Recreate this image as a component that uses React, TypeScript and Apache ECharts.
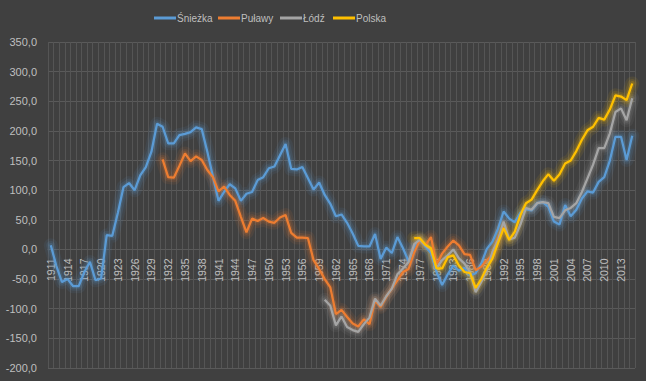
import React, { useEffect, useRef } from "react";
import * as echarts from "echarts";

const FIRST_YEAR = 1911;
const LAST_YEAR = 2015;
const years: string[] = Array.from({ length: LAST_YEAR - FIRST_YEAR + 1 }, (_, i) => String(FIRST_YEAR + i));

const sniezkaStart = 1911;
const sniezka = [
  7, -28, -55, -50, -62, -62, -38, -21, -52, -49,
  24, 23, 62, 105, 112, 100, 125, 139, 165, 212,
  207, 179, 179, 193, 195, 198, 206, 203, 165, 123,
  82, 97, 110, 103, 82, 94, 97, 117, 122, 137,
  140, 159, 178, 136, 135, 139, 120, 101, 113, 92,
  77, 56, 59, 45, 27, 6, 5, 5, 26, -16,
  3, -6, 21, 2, -20, 4, 17, 5, -6, -38,
  -60, -42, -27, -36, -31, -44, -40, -24, 1, 13,
  35, 64, 52, 46, 62, 68, 66, 78, 80, 72,
  47, 42, 75, 56, 67, 86, 98, 96, 114, 122,
  150, 190, 190, 151, 192,
];

const pulawyStart = 1931;
const pulawy = [
  152, 122, 121, 141, 162, 149, 157, 151, 134, 122,
  98, 106, 92, 82, 55, 29, 52, 48, 53, 47,
  45, 54, 58, 28, 20, 20, 19, -18, -33, -50,
  -64, -109, -102, -114, -125, -130, -118, -126, -86, -97,
  -80, -66, -52, -38, -33, -5, 16, 7, 21, -25,
  -7, 5, 15, 7, -8, -9, -35, -29, -18, -10,
  19, 38,
];

const lodzStart = 1960;
const lodz = [
  -85, -95, -128, -113, -131, -136, -139, -126, -115, -83,
  -95, -79, -66, -42, -32, -21, 9, 16, 7, -1,
  -32, -18, -10, 0, -15, -24, -38, -72, -55, -35,
  -4, 16, 47, 17, 20, 42, 70, 67, 78, 80,
  78, 55, 53, 66, 70, 78, 97, 120, 143, 171,
  171, 196, 232, 238, 218, 255,
];

const polskaStart = 1976;
const polska = [
  19, 19, 8, 2, -32, -32, -13, -10, -27, -38,
  -40, -65, -50, -31, -15, 11, 36, 16, 30, 58,
  78, 84, 100, 115, 127, 116, 127, 145, 150, 166,
  185, 201, 207, 222, 219, 236, 260, 258, 252, 280,
];

const seriesNames = ["Śnieżka", "Puławy", "Łódź", "Polska"];

const yMin = -200;
const yMax = 350;
const yStep = 50;

function align(start: number, vals: number[]): (number | null)[] {
  return years.map((y) => {
    const i = Number(y) - start;
    return i >= 0 && i < vals.length ? vals[i] : null;
  });
}

const COLORS = ["#5B9BD5", "#ED7D31", "#A5A5A5", "#FFC000"];
const LEGEND_LEFT = [149, 213, 275, 328];

const W = 646;
const H = 381;
const GRID = { left: 48, right: 11, top: 42, bottom: 13 };

export default function App() {
  const ref = useRef<HTMLDivElement>(null);
  useEffect(() => {
    if (!ref.current) return;
    const chart = echarts.init(ref.current, null, { renderer: "svg" });
    const datas = [
      align(sniezkaStart, sniezka),
      align(pulawyStart, pulawy),
      align(lodzStart, lodz),
      align(polskaStart, polska),
    ];
    const font = "'Liberation Sans', Arial, sans-serif";
    const gridH = H - GRID.top - GRID.bottom;
    const zeroOffset = ((0 - yMin) / (yMax - yMin)) * gridH;

    const glowLayers = [
      { width: 14, opacity: 0.08 },
      { width: 9, opacity: 0.12 },
      { width: 5, opacity: 0.18 },
    ];
    const glowSeries: any[] = [];
    datas.forEach((d, i) => {
      glowLayers.forEach((g, k) => {
        glowSeries.push({
          name: seriesNames[i] + " glow" + k,
          type: "line",
          data: d,
          symbol: "none",
          silent: true,
          z: 1,
          lineStyle: { width: g.width, color: COLORS[i], opacity: g.opacity, join: "round", cap: "round" },
        });
      });
    });

    chart.setOption({
      animation: false,
      backgroundColor: "#404040",
      color: COLORS,
      legend: seriesNames.map((n, i) => ({
        top: 8,
        left: LEGEND_LEFT[i],
        itemWidth: 22,
        itemHeight: 3,
        icon: "rect",
        textStyle: { color: "#bfbfbf", fontSize: 10, fontFamily: font, padding: [0, 0, 0, -4] },
        data: [n],
      })),
      grid: { ...GRID, containLabel: false },
      xAxis: {
        type: "category",
        data: years,
        boundaryGap: true,
        offset: -zeroOffset,
        axisLine: { show: true, onZero: false, lineStyle: { color: "#5a5a5a", width: 1 } },
        axisTick: { show: false },
        axisLabel: {
          interval: 2,
          rotate: 90,
          color: "#bfbfbf",
          fontSize: 10.5,
          fontFamily: font,
          margin: 9,
        },
        splitLine: { show: true, interval: 0, lineStyle: { color: "#555555", width: 1 } },
      },
      yAxis: {
        type: "value",
        min: yMin,
        max: yMax,
        interval: yStep,
        axisLine: { show: false },
        axisTick: { show: false },
        axisLabel: {
          color: "#bfbfbf",
          fontSize: 11,
          fontFamily: font,
          margin: 11,
          formatter: (v: number) => v.toFixed(1).replace(".", ","),
        },
        splitLine: { show: true, lineStyle: { color: "#5a5a5a", width: 1 } },
      },
      series: [
        ...glowSeries,
        ...datas.map((d, i) => ({
          name: seriesNames[i],
          type: "line",
          data: d,
          symbol: "none",
          showSymbol: false,
          connectNulls: false,
          z: 3,
          lineStyle: { width: 2.25, color: COLORS[i] },
          itemStyle: { color: COLORS[i] },
        })),
      ],
    });
    return () => chart.dispose();
  }, []);
  return <div ref={ref} style={{ width: W, height: H, position: "fixed", left: 0, top: 0 }} />;
}
